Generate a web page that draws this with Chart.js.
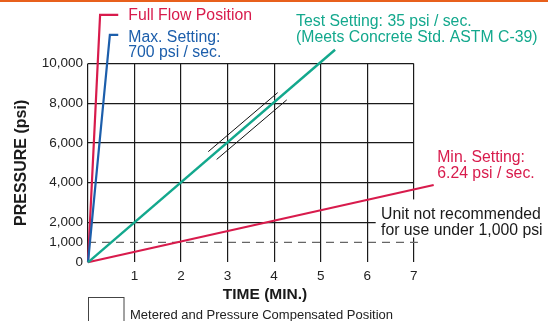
<!DOCTYPE html>
<html>
<head>
<meta charset="utf-8">
<script src="https://cdn.jsdelivr.net/npm/chart.js@4/dist/chart.umd.min.js"></script>
<style>
  body { margin: 0; background: #fff; }
  #wrap { width: 548px; height: 321px; }
</style>
</head>
<body>
<div id="wrap"><canvas id="pressure-rate" width="548" height="321"></canvas></div>
<script>
"use strict";

// axis ticks
var minuteTicks = [0, 1, 2, 3, 4, 5, 6, 7];
var pressureTicks = [0, 1000, 2000, 4000, 6000, 8000, 10000];

// lines (minutes, psi) - leader stubs included at the top
var fullFlow = [{x: 0, y: 0}, {x: 0.26, y: 12450}, {x: 0.65, y: 12450}];
var maxSetting = [{x: 0, y: 0}, {x: 0.47, y: 11440}, {x: 0.65, y: 11440}];
var testSetting = [{x: 0, y: 0}, {x: 5.31, y: 10690}];
var minSetting = [{x: 0, y: 0}, {x: 7.43, y: 3890}];
var meteredUpper = [{x: 2.585, y: 5567}, {x: 4.077, y: 8535}];
var meteredLower = [{x: 2.765, y: 5174}, {x: 4.271, y: 8169}];
var lowLimit = [{x: 0, y: 1000}, {x: 7.09, y: 1000}];

var RED = '#d81b4c';
var BLUE = '#1c5eab';
var TEAL = '#13a88d';
var FONT = '"Liberation Sans", Arial, sans-serif';

function lineSet(data, color, width, dash){
	return {
		data: data,
		borderColor: color,
		borderWidth: width,
		borderDash: dash || [],
		pointRadius: 0,
		tension: 0,
		fill: false,
		clip: false
	};
}

var decorations = {
	id: 'decorations',
	beforeDraw: function(chart){
		var ctx = chart.ctx;
		ctx.save();
		ctx.fillStyle = '#e8601c';
		ctx.fillRect(0, 0, chart.width, 2);
		ctx.restore();
	},
	afterDatasetsDraw: function(chart){
		var ctx = chart.ctx;
		var xs = chart.scales.x, ys = chart.scales.y;
		function px(p){ return {x: xs.getPixelForValue(p.x), y: ys.getPixelForValue(p.y)}; }
		ctx.save();
		ctx.textBaseline = 'alphabetic';
		ctx.textAlign = 'left';
		ctx.font = '15.8px ' + FONT;

		var a = px(fullFlow[2]);
		ctx.fillStyle = RED;
		ctx.fillText('Full Flow Position', a.x + 10, a.y + 5.7);

		a = px(maxSetting[2]);
		ctx.fillStyle = BLUE;
		ctx.fillText('Max. Setting:', a.x + 10, a.y + 7.3);
		ctx.fillText('700 psi / sec.', a.x + 10, a.y + 22.3);

		a = px(testSetting[1]);
		ctx.fillStyle = TEAL;
		ctx.fillText('Test Setting: 35 psi / sec.', a.x - 39, a.y - 23.3);
		ctx.fillText('(Meets Concrete Std. ASTM C-39)', a.x - 39, a.y - 8);

		a = px(minSetting[1]);
		ctx.fillStyle = RED;
		ctx.fillText('Min. Setting:', a.x + 3.5, a.y - 23.3);
		ctx.fillText('6.24 psi / sec.', a.x + 3.5, a.y - 7);

		// note box over the grid
		a = px({x: 7, y: 1000});
		ctx.fillStyle = '#fff';
		ctx.fillRect(a.x - 38, a.y - 43, chart.width - a.x + 38, 38);
		ctx.fillStyle = '#1a1a1a';
		ctx.fillText('Unit not recommended', a.x - 32.7, a.y - 23);
		ctx.fillText('for use under 1,000 psi', a.x - 32.7, a.y - 7.2);

		// axis title and key
		ctx.font = 'bold 15.5px ' + FONT;
		ctx.textAlign = 'center';
		ctx.fillText('TIME (MIN.)', 265, 298.5);

		ctx.strokeStyle = '#444';
		ctx.lineWidth = 1;
		ctx.strokeRect(88.5, 297.5, 35.5, 30);
		ctx.textAlign = 'left';
		ctx.font = '13px ' + FONT;
		ctx.fillStyle = '#222';
		ctx.fillText('Metered and Pressure Compensated Position', 130, 318.5);
		ctx.restore();
	}
};

function pressureRateChart(){
	var ctx = document.getElementById('pressure-rate');
	return new Chart(ctx, {
		type: 'line',
		data: {
			datasets: [
				lineSet(testSetting, TEAL, 2.4),
				lineSet(minSetting, RED, 2.2),
				lineSet(maxSetting, BLUE, 2.2),
				lineSet(fullFlow, RED, 2.2),
				lineSet(meteredUpper, '#111', 1),
				lineSet(meteredLower, '#111', 1),
				lineSet(lowLimit, '#666', 1.2, [8, 6])
			]
		},
		options: {
			responsive: false,
			animation: false,
			events: [],
			layout: { padding: { left: 0, right: 134.3, top: 63.5, bottom: 0 } },
			plugins: { legend: { display: false }, tooltip: { enabled: false } },
			scales: {
				x: {
					type: 'linear',
					min: 0,
					max: 7,
					afterFit: function(scale){ scale.height = 58.7; },
					afterBuildTicks: function(scale){
						scale.ticks = minuteTicks.map(function(v){ return {value: v}; });
					},
					border: { display: false },
					grid: { color: '#1a1a1a', lineWidth: 1.2, drawTicks: false },
					ticks: {
						padding: 6,
						color: '#222',
						font: { family: FONT, size: 13.5 },
						maxRotation: 0,
						callback: function(v){ return v === 0 ? '' : String(v); }
					}
				},
				y: {
					min: 0,
					max: 10000,
					afterFit: function(scale){ scale.width = 88; },
					afterBuildTicks: function(scale){
						scale.ticks = pressureTicks.map(function(v){ return {value: v}; });
					},
					border: { display: false },
					grid: {
						drawTicks: false,
						lineWidth: 1.2,
						color: function(c){
							return (c.tick && (c.tick.value === 0 || c.tick.value === 1000)) ? 'rgba(0,0,0,0)' : '#1a1a1a';
						}
					},
					ticks: {
						padding: 5,
						color: '#222',
						font: { family: FONT, size: 13.5 },
						callback: function(v){ return v.toLocaleString('en-US'); }
					},
					title: {
						display: true,
						text: 'PRESSURE (psi)',
						color: '#1a1a1a',
						padding: { top: 12, bottom: 0 },
						font: { family: FONT, size: 16, weight: 'bold' }
					}
				}
			}
		},
		plugins: [decorations]
	});
}

pressureRateChart();
</script>
</body>
</html>
